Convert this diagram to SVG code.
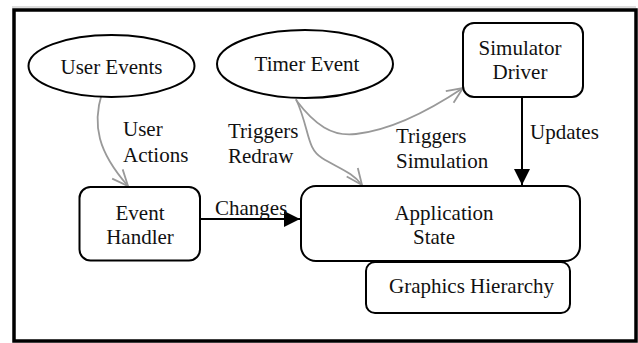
<svg xmlns="http://www.w3.org/2000/svg" width="638" height="343" viewBox="0 0 638 343">
<defs>
<style>
.node{fill:#fff;stroke:#000;stroke-width:2}
.gray{fill:none;stroke:#999;stroke-width:1.8}
.black{fill:none;stroke:#000;stroke-width:2}
</style>
<marker id="open" markerUnits="userSpaceOnUse" markerWidth="20" markerHeight="20" viewBox="0 0 20 20" refX="18" refY="10" orient="auto">
<path d="M2,3 L18,10 L2,17" fill="none" stroke="#999" stroke-width="1.8"/>
</marker>
<marker id="solid" markerUnits="userSpaceOnUse" markerWidth="18" markerHeight="18" viewBox="0 0 18 18" refX="16" refY="9" orient="auto">
<path d="M0,1 L16,9 L0,17 Z" fill="#000"/>
</marker>
</defs>
<rect x="0" y="0" width="638" height="343" fill="#fff"/>
<line x1="12" y1="7" x2="636" y2="7" stroke="#bbb" stroke-width="1"/>
<rect x="14" y="10" width="622" height="331" fill="none" stroke="#000" stroke-width="3.5"/>

<g font-family="Liberation Serif, DejaVu Serif, serif" font-size="21" fill="#111">
<g id="connectors">
<path class="gray" d="M102,93 C92,125 98,152 128,186" marker-end="url(#open)"/>
<path class="gray" d="M296,99 C310,130 306,148 322,158 C338,168 352,172 362,185" marker-end="url(#open)"/>
<path class="gray" d="M296,100 C315,125 332,137 356,134 C392,130 430,110 463,88" marker-end="url(#open)"/>
<path class="black" d="M200,219 L300,219" marker-end="url(#solid)"/>
<path class="black" d="M522,97 L522,185" marker-end="url(#solid)"/>
<text x="123" y="136">User</text>
<text x="123" y="162">Actions</text>
<text x="228" y="138">Triggers</text>
<text x="228" y="163">Redraw</text>
<text x="396" y="143">Triggers</text>
<text x="396" y="168">Simulation</text>
<text x="530" y="139">Updates</text>
<text x="215" y="215">Changes</text>
</g>

<g id="user-events">
<ellipse class="node" cx="111.5" cy="66" rx="83" ry="31"/>
<text x="111.5" y="74" text-anchor="middle">User Events</text>
</g>
<g id="timer-event">
<ellipse class="node" cx="305" cy="64" rx="88" ry="34"/>
<text x="307" y="71" text-anchor="middle">Timer Event</text>
</g>
<g id="simulator-driver">
<rect class="node" x="463" y="23" width="120" height="74" rx="11"/>
<text x="520" y="55" text-anchor="middle">Simulator</text>
<text x="520" y="79" text-anchor="middle">Driver</text>
</g>
<g id="event-handler">
<rect class="node" x="79.5" y="187" width="120.5" height="73.5" rx="11"/>
<text x="140" y="220" text-anchor="middle">Event</text>
<text x="140" y="244" text-anchor="middle">Handler</text>
</g>
<g id="application-state">
<rect class="node" x="301" y="186" width="279" height="75" rx="15"/>
<text x="444" y="220" text-anchor="middle">Application</text>
<text x="434" y="244" text-anchor="middle">State</text>
</g>
<g id="graphics-hierarchy">
<rect class="node" x="366" y="262" width="204" height="51" rx="9"/>
<text x="389" y="293">Graphics Hierarchy</text>
</g>
</g>
</svg>
